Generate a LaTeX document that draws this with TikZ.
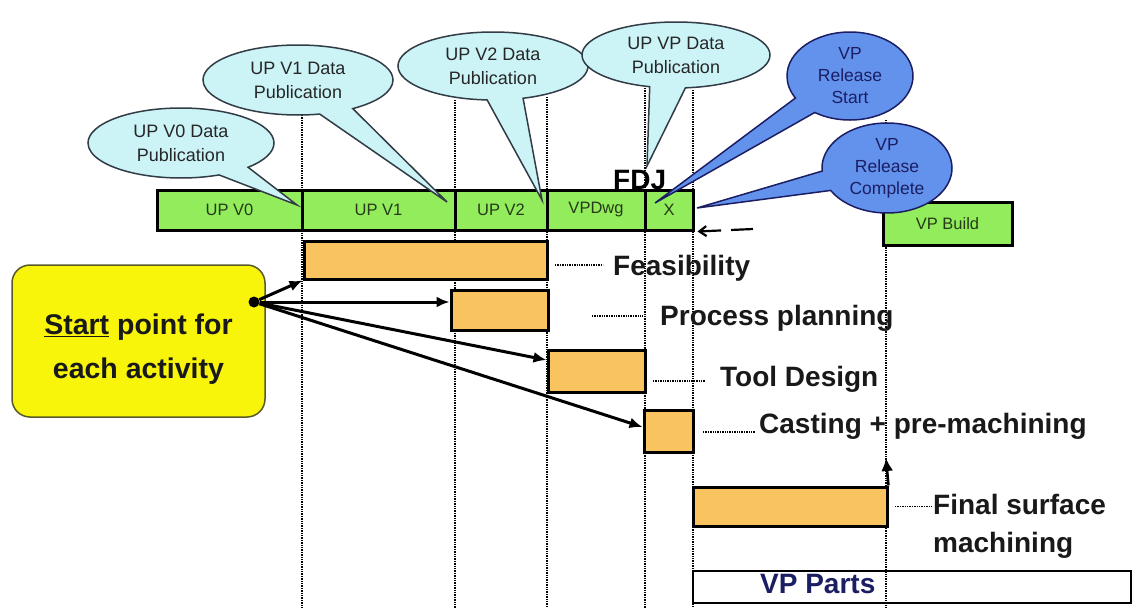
\documentclass[tikz,border=0pt]{standalone}
\usepackage{fontspec}
\setmainfont{Liberation Sans}
\usetikzlibrary{shapes.callouts,arrows.meta,calc}
\definecolor{barGreen}{RGB}{146,236,92}
\definecolor{barOrange}{RGB}{249,196,96}
\definecolor{noteYellow}{RGB}{248,244,10}
\definecolor{noteEdge}{RGB}{90,90,40}
\definecolor{bubbleCyan}{RGB}{204,244,246}
\definecolor{bubbleBlue}{RGB}{98,146,236}
\definecolor{inkNavy}{RGB}{28,30,100}
\definecolor{inkGreen}{RGB}{38,58,24}
\definecolor{bubbleEdge}{RGB}{50,60,70}

\begin{document}
\begin{tikzpicture}[x=1pt,y=-1pt,
  phase/.style={draw=black,line width=3pt,fill=barGreen,inner sep=0pt,minimum height=40pt,
    text=inkGreen,font=\fontsize{16.5}{18}\selectfont},
  task/.style={draw=black,line width=3pt,fill=barOrange,inner sep=0pt},
  cyannote/.style={ellipse callout,draw=bubbleEdge,line width=1.5pt,fill=bubbleCyan,inner sep=0pt,
    align=center,callout pointer arc=22,font=\fontsize{18}{24}\selectfont,text=black!85},
  bluenote/.style={ellipse callout,draw=inkNavy,line width=1.5pt,fill=bubbleBlue,inner sep=0pt,
    align=center,callout pointer arc=26,font=\fontsize{17.5}{22}\selectfont,text=inkNavy},
  tasklabel/.style={anchor=base west,inner sep=0pt,font=\fontsize{28}{38}\selectfont\bfseries,text=black!90},
  timeline/.style={densely dotted,line width=1.4pt,black},
  leader/.style={densely dotted,line width=1.4pt,black},
  act/.style={line width=3pt,-{Latex[length=13pt,width=11pt]}},
]
% canvas
\fill[white] (0,0) rectangle (1141,608);
\useasboundingbox (0,0) rectangle (1141,608);

% dotted milestone lines
\draw[timeline] (302,115) -- (302,608);
\draw[timeline] (455,100) -- (455,608);
\draw[timeline] (547,97) -- (547,608);
\draw[timeline] (645,88) -- (645,608);
\draw[timeline] (693,90) -- (693,608);
\draw[timeline] (886,120) -- (886,608);

% programme phases
\node[phase,minimum width=145pt] (v0) at (229.5,210) {UP V0};
\node[phase,minimum width=153pt] (v1) at (378.5,210) {UP V1};
\node[phase,minimum width=92pt]  (v2) at (501,210) {UP V2};
\node[phase,minimum width=98pt]  (vd) at (596,210) {VPDwg};
\node[phase,minimum width=48pt]  (vx) at (669,210) {X};
\node[phase,minimum width=129pt,minimum height=43pt] (vb) at (947.5,223.5) {VP Build};

\node[tasklabel,text=black] (fdj) at (613,189) {FDJ};

% activity bars
\node[task,minimum width=243pt,minimum height=38pt] (feas) at (425.5,260) {};
\node[task,minimum width=97pt,minimum height=40pt]  (pp)   at (499.5,310) {};
\node[task,minimum width=97pt,minimum height=42pt]  (td)   at (596.5,371) {};
\node[task,minimum width=49pt,minimum height=42pt]  (cm)   at (668.5,431) {};
\node[task,minimum width=194pt,minimum height=39pt] (fs)   at (790,506.5) {};
\node[draw=black,line width=2pt,minimum width=438pt,minimum height=32pt,inner sep=0pt] (parts) at (912,587) {};

% activity labels with leaders
\node[tasklabel] (lf) at (613,275) {Feasibility};
\node[tasklabel] (lp) at (660,325) {Process planning};
\node[tasklabel] (lt) at (720,386) {Tool Design};
\node[tasklabel] (lc) at (759,433) {Casting + pre-machining};
\node[anchor=north west,inner sep=0pt,align=left,font=\fontsize{28}{38}\selectfont\bfseries,text=black!90] (lfs) at (933,494.5) {Final surface\\machining};
\node[tasklabel,text=inkNavy] (lvp) at (760,593) {VP Parts};

\draw[leader] ([xshift=-58pt,yshift=10pt]lf.base west) -- ([xshift=-10pt,yshift=10pt]lf.base west);
\draw[leader] ([xshift=-68pt,yshift=9pt]lp.base west) -- ([xshift=-17pt,yshift=9pt]lp.base west);
\draw[leader] ([xshift=-67pt,yshift=5pt]lt.base west) -- ([xshift=-15pt,yshift=5pt]lt.base west);
\draw[leader] ([xshift=-56pt,yshift=1pt]lc.base west) -- ([xshift=-4pt,yshift=1pt]lc.base west);
\draw[leader] ([xshift=-38pt,yshift=-12pt]lfs.north west) -- ([yshift=-12pt]lfs.north west);

% start-point note and activity arrows
\node[draw=noteEdge,line width=1.5pt,fill=noteYellow,rounded corners=18pt,minimum width=253pt,
  minimum height=152pt,inner sep=0pt,align=center,font=\fontsize{28.5}{44}\selectfont\bfseries,text=black!90]
  (note) at (138.5,341) {\rule{0pt}{36pt}\underline{Start} point for\\each activity};
\node[circle,fill=black,inner sep=0pt,minimum size=11pt] (sp) at (254,302) {};

\draw[act] (sp) -- (feas.south west);
\draw[act] (sp) -- (sp -| pp.west);
\draw[act] (sp) -- ([yshift=11pt]td.west);
\draw[act] (sp) -- ([yshift=4pt]cm.west);

% build marker and release pointer
\coordinate (buildmark) at (886,458);
\draw[line width=2.5pt,-{Latex[length=13pt,width=12pt]}] (fs.north east) -- (buildmark);
\coordinate (dashstart) at (753,229);
\draw[line width=2.2pt,dash pattern=on 22pt off 10pt,-{Straight Barb[length=7pt,width=10pt]}] (dashstart) -- ([xshift=3pt]vx.south east);

% publication and release callouts
\coordinate (tip0) at (297,205);
\coordinate (tip1) at (447,202);
\coordinate (tip2) at (542,200);
\coordinate (tipp) at (647,166);
\coordinate (tips) at (655,203);
\coordinate (tipc) at (697,208);
\node[cyannote,minimum width=186pt,minimum height=70pt,callout absolute pointer={(tip0)}] (cv0) at (181,143) {UP V0 Data\\Publication};
\node[cyannote,minimum width=190pt,minimum height=70pt,callout absolute pointer={(tip1)}] (cv1) at (298,80) {UP V1 Data\\Publication};
\node[cyannote,minimum width=190pt,minimum height=68pt,callout absolute pointer={(tip2)}] (cv2) at (493,66) {UP V2 Data\\Publication};
\node[cyannote,minimum width=188pt,minimum height=66pt,callout absolute pointer={(tipp)}] (cvp) at (676,55) {UP VP Data\\Publication};
\node[bluenote,minimum width=126pt,minimum height=88pt,callout absolute pointer={(tips)}] (crs) at (850,76) {VP\\Release\\Start};
\node[bluenote,minimum width=130pt,minimum height=90pt,callout absolute pointer={(tipc)}] (crc) at (887,168) {VP\\Release\\Complete};
\end{tikzpicture}
\end{document}
